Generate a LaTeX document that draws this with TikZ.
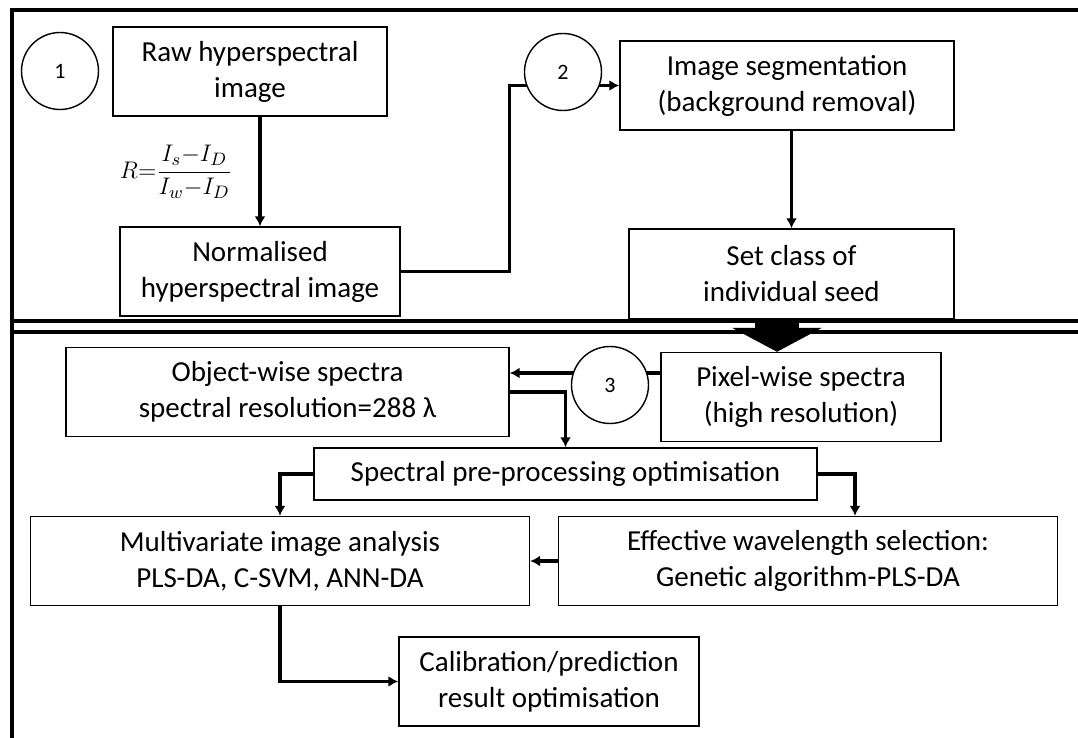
\documentclass[tikz,border=0pt]{standalone}
\usepackage{amsmath}
\usepackage{fontspec}
\setmainfont{Carlito}
\usetikzlibrary{arrows.meta, positioning, calc}

\begin{document}
\begin{tikzpicture}[
    x=0.5pt, y=-0.5pt,
    font=\fontsize{14.5}{18}\selectfont,
    box/.style={
        rectangle,
        draw,
        line width=0.7pt,
        align=center,
        inner sep=2pt,
        minimum height=44.5pt
    },
    stage/.style={
        circle,
        draw,
        line width=0.7pt,
        fill=white,
        minimum size=38.5pt,
        inner sep=0pt,
        font=\fontsize{11}{13}\selectfont
    },
    line/.style={
        draw,
        line width=1.6pt
    },
    arr/.style={
        line,
        -{Latex[length=5pt,width=5.5pt]}
    },
    frame/.style={
        draw,
        line width=2pt
    }
]
\useasboundingbox (0,0) rectangle (1078,738);

% Frame
\draw [frame] (1078,10) -- (11.5,10) -- (11.5,738);
\draw [frame] (11.5,321) -- (1078,321);
\draw [frame] (11.5,332) -- (1078,332);

% Nodes
\node [box, minimum width=137pt] (raw) at (250,71.5) {Raw hyperspectral\\image};
\node [box, minimum width=140pt] (norm) at (260,271.5) {Normalised\\hyperspectral image};
\node [font=\fontsize{12.5}{15}\selectfont, inner sep=0pt] (formula) at (176,172) {$R{=}\dfrac{I_s{-}I_D}{I_w{-}I_D}$};
\node [box, minimum width=167pt] (seg) at (787,85.5) {Image segmentation\\(background removal)};
\node [box, minimum width=162.5pt, minimum height=45pt] (seed) at (791.5,274) {Set class of\\individual seed};
\node [box, minimum width=140pt] (pixel) at (801,397) {Pixel-wise spectra\\(high resolution)};
\node [box, minimum width=221.5pt] (object) at (287.5,392) {Object-wise spectra\\spectral resolution=288 λ};
\node [box, minimum width=251.5pt, minimum height=26pt] (prep) at (565.5,474) {Spectral pre-processing optimisation};
\node [box, minimum width=249.5pt] (mia) at (280,561) {Multivariate image analysis\\PLS-DA, C-SVM, ANN-DA};
\node [box, minimum width=249.5pt] (ga) at (808,561) {Effective wavelength selection:\\Genetic algorithm-PLS-DA};
\node [box, minimum width=150pt] (calib) at (549,681.5) {Calibration/prediction\\result optimisation};

% Paths
\path [arr] (raw.south -| norm.north) -- (norm.north);
\path [arr] (norm.east) -- ++(109,0) |- (seg.west);
\path [arr] (seg.south -| seed.north) -- (seed.north);
\path [draw, line width=22pt, -{Triangle[length=12pt,width=44.5pt]}] ([xshift=-7.25pt]seed.south) -- ([xshift=-7.25pt]seed.south |- pixel.north);
\path [arr] ([yshift=12pt]pixel.west) -- ([yshift=12pt]pixel.west -| object.east);
\path [arr] (object.east) -| (prep.north);
\path [arr] (prep.west) -| (mia.north);
\path [arr] (prep.east) -| ([xshift=23.5pt]ga.north);
\path [arr] (ga.west) -- (mia.east);
\path [arr] (mia.south) |- (calib.west);

% Stage markers
\node [stage] (s1) at (60,71) {1};
\node [stage] (s2) at (563,72) {2};
\node [stage] (s3) at (610,385) {3};

\end{tikzpicture}
\end{document}
